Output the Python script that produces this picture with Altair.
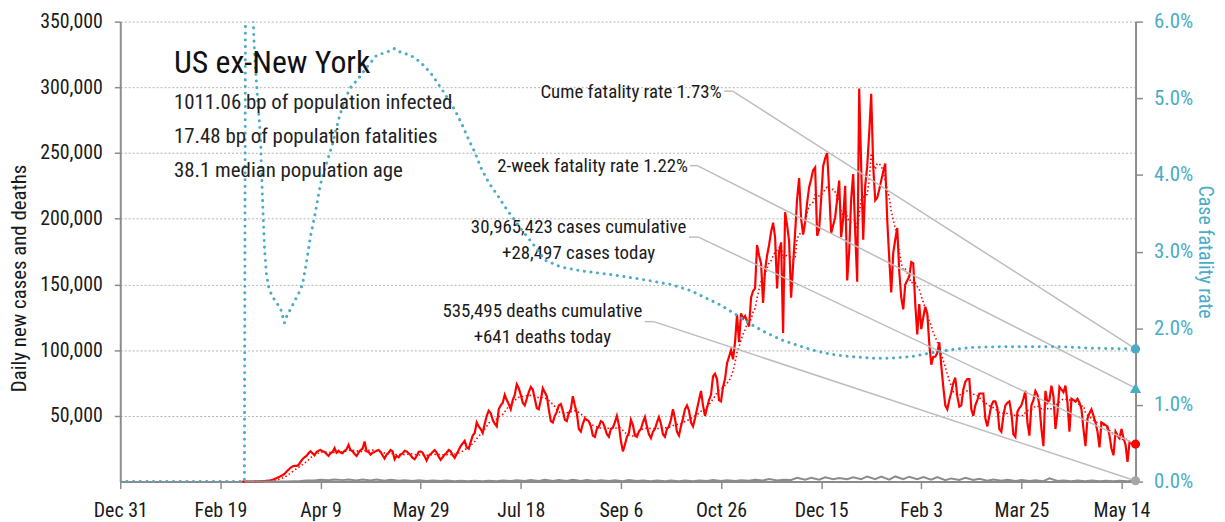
import altair as alt
import pandas as pd

# ------------------------------------------------------------------ facts
region_name = "US ex-New York"
bp_infected = 1011.06
bp_fatalities = 17.48
median_age = 38.1
cases_cumulative = 30965423
deaths_cumulative = 535495
cases_today = 28497
deaths_today = 641
cume_fatality_pct = 1.73
two_week_fatality_pct = 1.22

first_day = "2019-12-31"
last_day = "2021-05-21"
x_tick_dates = ["2019-12-31", "2020-02-19", "2020-04-09", "2020-05-29",
                "2020-07-18", "2020-09-06", "2020-10-26", "2020-12-15",
                "2021-02-03", "2021-03-25", "2021-05-14"]
left_ticks = [50000, 100000, 150000, 200000, 250000, 300000, 350000]
right_ticks = [0, 1, 2, 3, 4, 5, 6]

# ------------------------------------------------------------------ daily new cases
cases_2020_03 = [10, 15, 20, 30, 40, 60, 80, 110, 150, 200,
                 300, 400, 600, 800, 1000, 1400, 1900, 2600, 3300, 4000,
                 4800, 5800, 7500, 9000, 10500, 11500, 12000, 12000, 12500, 15000, 17000]
cases_2020_04 = [18500, 19500, 21500, 23000, 21500, 20000, 22500, 23500, 24000, 23000,
                 22500, 21000, 19500, 21500, 22500, 25500, 22000, 23500, 22000, 21500,
                 23500, 24500, 28000, 24000, 23000, 21000, 19500, 22000, 24000, 25000]
cases_2020_05 = [30500, 23000, 22500, 20500, 22000, 22500, 23500, 24000, 22500, 20000,
                 17500, 20500, 22000, 24000, 23000, 17000, 19500, 18500, 20500, 21500,
                 23500, 23000, 21500, 20000, 18000, 17000, 19500, 22500, 23000, 22000, 19000]
cases_2020_06 = [16000, 19500, 21000, 22500, 24000, 22000, 19000, 16500, 18500, 20500,
                 22000, 24000, 23000, 20000, 18000, 21000, 24000, 27000, 29000, 31000,
                 26000, 25000, 30000, 35000, 37000, 45000, 42000, 40000, 37000, 44000]
cases_2020_07 = [50000, 54000, 52000, 47000, 44000, 42000, 55000, 58000, 60000, 66000,
                 62000, 59000, 55000, 62000, 66000, 74000, 71000, 66000, 60000, 58000,
                 63000, 68000, 72000, 70000, 63000, 56000, 55000, 62000, 71000, 68000, 65000]
cases_2020_08 = [55000, 46000, 45000, 50000, 53000, 58000, 59000, 54000, 47000, 46000,
                 52000, 55000, 65000, 58000, 52000, 40000, 38000, 44000, 48000, 47000,
                 46000, 42000, 35000, 34000, 40000, 42000, 46000, 45000, 41000, 36000, 34000]
cases_2020_09 = [40000, 41000, 45000, 50000, 43000, 31000, 23000, 28000, 34000, 37000,
                 47000, 43000, 35000, 34000, 38000, 40000, 45000, 49000, 42000, 36000,
                 33000, 38000, 40000, 45000, 49000, 44000, 36000, 34000, 40000, 42000]
cases_2020_10 = [47000, 55000, 48000, 38000, 35000, 42000, 48000, 55000, 58000, 54000,
                 45000, 42000, 48000, 55000, 62000, 69000, 58000, 50000, 56000, 62000,
                 66000, 80000, 82000, 78000, 62000, 61000, 72000, 78000, 90000, 95000, 100000]
cases_2020_11 = [93000, 106000, 127000, 106000, 128000, 124000, 126000, 122000, 118000, 140000,
                 145000, 147000, 180000, 172000, 166000, 136000, 161000, 172000, 180000, 190000,
                 197000, 186000, 147000, 175000, 182000, 113000, 205000, 195000, 183000, 140000]
cases_2020_12 = [165000, 189000, 215000, 231000, 200000, 188000, 197000, 212000, 224000, 230000,
                 237000, 239000, 187000, 192000, 215000, 240000, 246000, 250000, 222000, 189000,
                 195000, 201000, 215000, 229000, 186000, 200000, 225000, 153000, 175000, 215000, 234000]
cases_2021_01 = [190000, 152000, 299000, 240000, 184000, 225000, 240000, 265000, 295000, 240000,
                 214000, 216000, 222000, 229000, 236000, 242000, 199000, 170000, 144000, 174000,
                 184000, 193000, 160000, 140000, 131000, 150000, 153000, 156000, 167000, 166000, 135000]
cases_2021_02 = [112000, 135000, 116000, 125000, 133000, 128000, 105000, 89000, 95000, 95000,
                 98000, 106000, 88000, 72000, 58000, 55000, 62000, 68000, 75000, 79000,
                 65000, 57000, 58000, 70000, 76000, 78000, 78000, 55000]
cases_2021_03 = [50000, 58000, 62000, 67000, 67000, 67000, 48000, 42000, 50000, 58000,
                 61000, 61000, 56000, 40000, 38000, 50000, 58000, 60000, 61000, 52000,
                 36000, 34000, 53000, 56000, 58000, 63000, 69000, 45000, 35000, 58000, 62000]
cases_2021_04 = [69000, 66000, 58000, 40000, 27000, 69000, 60000, 62000, 73000, 65000,
                 40000, 52000, 72000, 70000, 68000, 73000, 60000, 38000, 63000, 62000,
                 61000, 63000, 60000, 55000, 40000, 27000, 48000, 52000, 55000, 50000]
cases_2021_05 = [45000, 38000, 26000, 45000, 44000, 43000, 42000, 35000, 25000, 20000,
                 38000, 35000, 33000, 40000, 33000, 28000, 15000, 30000, 29000, 29000, cases_today]

# ------------------------------------------------------------------ daily deaths, read on Mondays and Thursdays
deaths_2020 = [0, 10, 10, 20, 40, 80, 150, 300, 450,
               800, 900, 1300, 1000, 1500, 1100, 1600, 900, 1600,
               900, 1500, 600, 1400, 600, 1100, 400, 1000,
               500, 900, 400, 800, 300, 700, 300, 600, 300,
               600, 300, 900, 400, 950, 400, 1100, 500, 1300,
               500, 1200, 500, 1300, 500, 1100, 400, 1000, 400,
               1000, 300, 1100, 400, 900, 300, 900, 300,
               800, 300, 900, 300, 800, 400, 1100, 500, 1000,
               500, 1100, 600, 1300, 800, 1900, 900, 1300, 1200,
               2800, 1400, 2900, 1400, 3200, 1800, 2700, 1800, 3300]
deaths_2021 = [1800, 3900, 1900, 3800, 1400, 3900, 1800, 3700,
               1800, 3500, 1400, 3400, 1000, 2400, 1200, 2800,
               1300, 2200, 700, 1500, 600, 1300, 400, 1100, 400,
               1000, 300, 2500, 400, 800, 300, 800, 300, 800,
               300, 700, 300, 600, 300, 600]

# ------------------------------------------------------------------ cumulative case fatality rate (%), read at day offsets
rate_day = [0, 62, 63, 64, 65, 66, 67, 68, 70, 71,
            72, 73, 74, 75, 77, 80, 82, 83, 84, 87,
            89, 91, 93, 95, 97, 100, 103, 106, 109, 112,
            115, 119, 123, 128, 133, 137, 140, 145, 150, 155,
            160, 165, 168, 171, 174, 177, 180, 184, 188, 193,
            200, 207, 212, 220, 230, 245, 260, 275, 285, 292,
            300, 308, 315, 322, 330, 338, 345, 355, 365, 375,
            385, 395, 405, 415, 425, 440, 455, 470, 485, 507]
rate_pct = [0, 0, 12, 15, 12, 6.3, 5.6, 5.2, 4.5, 3.7,
            3.05, 2.7, 2.55, 2.47, 2.37, 2.26, 2.07, 2.15, 2.2, 2.35,
            2.45, 2.57, 2.86, 3.2, 3.45, 3.88, 4.15, 4.4, 4.72, 4.98,
            5.14, 5.26, 5.4, 5.56, 5.6, 5.65, 5.6, 5.56, 5.47, 5.33,
            5.14, 4.94, 4.8, 4.64, 4.46, 4.3, 4.1, 3.9, 3.75, 3.55,
            3.3, 3.07, 2.89, 2.8, 2.75, 2.7, 2.64, 2.57, 2.49, 2.4,
            2.3, 2.17, 2.05, 1.95, 1.85, 1.78, 1.72, 1.66, 1.63, 1.61,
            1.61, 1.63, 1.68, 1.72, 1.75, 1.76, 1.76, 1.76, 1.74, cume_fatality_pct]

# ------------------------------------------------------------------ styling / layout
FONT = "Liberation Sans Narrow, Roboto Condensed, DejaVu Sans Condensed, sans-serif"
RED = "#ff0000"
TEAL = "#4bacc6"
GRAY = "#8c8c8c"
LEADER = "#bdbdbd"
INK = "#1a1a1a"
W, H = 1022, 463
LEFT_MAX, RIGHT_MAX = 350000, 6

DAY_MS = 86_400_000


def to_ms(ts):
    return int(pd.Timestamp(ts).value // 1_000_000)


t0 = to_ms(first_day)
t_end = to_ms(last_day)


def at_day(d):
    return t0 + int(round(d * DAY_MS))


# annotation anchors (day offset, left-axis value)
ann_right = [(f"Cume fatality rate {cume_fatality_pct:.2f}%", 300.3, 296300),
             (f"2-week fatality rate {two_week_fatality_pct:.2f}%", 283.5, 240000)]
ann_center = [(f"{cases_cumulative:,} cases cumulative", 228.9, 193900),
              (f"+{cases_today:,} cases today", 228.9, 174200),
              (f"{deaths_cumulative:,} deaths cumulative", 210.8, 130000),
              (f"+{deaths_today:,} deaths today", 210.8, 110000)]
to_left = LEFT_MAX / RIGHT_MAX
leader_specs = [(301.6, 305.8, 297100, cume_fatality_pct * to_left),
                (284.5, 288.2, 240400, two_week_fatality_pct * to_left),
                (284.0, 288.7, 186000, cases_today),
                (261.9, 266.4, 121700, deaths_today)]

# ------------------------------------------------------------------ tables
case_months = [("2020-03-01", cases_2020_03), ("2020-04-01", cases_2020_04),
               ("2020-05-01", cases_2020_05), ("2020-06-01", cases_2020_06),
               ("2020-07-01", cases_2020_07), ("2020-08-01", cases_2020_08),
               ("2020-09-01", cases_2020_09), ("2020-10-01", cases_2020_10),
               ("2020-11-01", cases_2020_11), ("2020-12-01", cases_2020_12),
               ("2021-01-01", cases_2021_01), ("2021-02-01", cases_2021_02),
               ("2021-03-01", cases_2021_03), ("2021-04-01", cases_2021_04),
               ("2021-05-01", cases_2021_05)]
parts = []
for start, vals in case_months:
    dates = pd.date_range(start, periods=len(vals), freq="D")
    assert (dates.month == dates[0].month).all(), start
    parts.append(pd.DataFrame({"date": dates.asi8 // 1_000_000, "v": vals}))
cases_df = pd.concat(parts, ignore_index=True)

mons = pd.date_range("2020-03-02", "2021-05-17", freq="W-MON")
thus = pd.date_range("2020-03-05", "2021-05-20", freq="W-THU")
death_dates = mons.union(thus)
death_vals = deaths_2020 + deaths_2021
assert len(death_dates) == len(death_vals)
deaths_df = pd.DataFrame({"date": list(death_dates.asi8 // 1_000_000) + [t_end],
                          "v": death_vals + [deaths_today]})

rate_df = pd.DataFrame({"date": [at_day(d) for d in rate_day], "r": rate_pct})

leader_rows = []
for d1, d2, yv, yend in leader_specs:
    leader_rows.append({"x": at_day(d1), "x2": at_day(d2), "y": yv, "y2": yv})
    leader_rows.append({"x": at_day(d2), "x2": t_end, "y": yv, "y2": yend})
leaders_df = pd.DataFrame(leader_rows)

ann_right_df = pd.DataFrame([{"date": at_day(d), "v": v, "t": t} for t, d, v in ann_right])
ann_center_df = pd.DataFrame([{"date": at_day(d), "v": v, "t": t} for t, d, v in ann_center])

# ------------------------------------------------------------------ scales / axes
x_scale = alt.Scale(type="utc", domain=[t0, t_end], nice=False)
x_axis = alt.Axis(values=[to_ms(d) for d in x_tick_dates],
                  labelExpr="utcFormat(datum.value, '%b %-d')",
                  grid=False, tickSize=7, tickWidth=1.5, tickColor=GRAY,
                  domainColor=GRAY, domainWidth=2, labelFontSize=20, labelColor=INK,
                  labelPadding=12, labelFlush=False, labelOverlap=False)
yl_scale = alt.Scale(domain=[0, LEFT_MAX], nice=False, zero=True)
yl_axis = alt.Axis(values=left_ticks, format=",d", grid=True, gridDash=[2, 2],
                   gridColor="#b3b3b3", gridWidth=1, tickSize=6, tickWidth=1.5,
                   tickColor=GRAY, domainColor=GRAY, domainWidth=2,
                   labelFontSize=20, labelColor=INK, labelPadding=12,
                   titleFontSize=21, titleFontWeight="normal", titleColor=INK,
                   titleAngle=-90, titleX=-101, titleY=258, titleAlign="center",
                   titleBaseline="middle")
yr_scale = alt.Scale(domain=[0, RIGHT_MAX], nice=False, zero=True)
yr_axis = alt.Axis(orient="right", values=right_ticks,
                   labelExpr="format(datum.value, '.1f') + '%'", grid=False,
                   tickSize=7, tickWidth=1.5, tickColor=GRAY, domainColor=GRAY,
                   domainWidth=2, labelFontSize=21, labelColor=TEAL, labelPadding=11,
                   titleFontSize=20, titleFontWeight="normal", titleColor=TEAL,
                   titleAngle=90, titleX=69, titleY=231.5, titleAlign="center",
                   titleBaseline="middle")
LEFT_TITLE = "Daily new cases and deaths"
RIGHT_TITLE = "Case fatality rate"


def X(field):
    return alt.X(field, type="temporal", scale=x_scale, axis=x_axis, title=None)


def YL(field):
    return alt.Y(field, type="quantitative", scale=yl_scale, axis=yl_axis, title=LEFT_TITLE)


def YR(field):
    return alt.Y(field, type="quantitative", scale=yr_scale, axis=yr_axis, title=RIGHT_TITLE)


# ------------------------------------------------------------------ left-axis layers
cases_line = alt.Chart(cases_df).mark_line(color=RED, strokeWidth=2.2).encode(
    x=X("date"), y=YL("v"))
avg_line = alt.Chart(cases_df).transform_window(
    avg="mean(v)", frame=[-6, 0], sort=[alt.SortField("date")]
).mark_line(color=RED, strokeWidth=1.6, strokeDash=[1.5, 2.5]).encode(
    x=X("date"), y=YL("avg"))
deaths_line = alt.Chart(deaths_df).mark_line(color=GRAY, strokeWidth=2).encode(
    x=X("date"), y=YL("v"))
leaders = alt.Chart(leaders_df).mark_rule(color=LEADER, strokeWidth=1.5).encode(
    x=X("x"), x2="x2:T", y=YL("y"), y2="y2:Q")
red_dot = alt.Chart(pd.DataFrame({"date": [t_end], "v": [cases_today]})).mark_circle(
    color=RED, size=85, opacity=1).encode(x=X("date"), y=YL("v"))
gray_dot = alt.Chart(pd.DataFrame({"date": [t_end], "v": [deaths_today]})).mark_circle(
    color="#a6a6a6", size=85, opacity=1).encode(x=X("date"), y=YL("v"))
labels_r = alt.Chart(ann_right_df).mark_text(
    align="right", baseline="middle", fontSize=19, color=INK).encode(
    x=X("date"), y=YL("v"), text="t:N")
labels_c = alt.Chart(ann_center_df).mark_text(
    align="center", baseline="middle", fontSize=19, color=INK).encode(
    x=X("date"), y=YL("v"), text="t:N")

left = alt.layer(cases_line, avg_line, deaths_line, leaders, red_dot, gray_dot,
                 labels_r, labels_c)

# ------------------------------------------------------------------ right-axis layers
rate_line = alt.Chart(rate_df).mark_line(
    color=TEAL, strokeWidth=3, strokeDash=[0.1, 6.6], strokeCap="round", clip=True
).encode(x=X("date"), y=YR("r"))
cume_dot = alt.Chart(pd.DataFrame({"date": [t_end], "r": [cume_fatality_pct]})).mark_circle(
    color=TEAL, size=85, opacity=1).encode(x=X("date"), y=YR("r"))
two_week_tri = alt.Chart(pd.DataFrame({"date": [t_end], "r": [two_week_fatality_pct]})).mark_point(
    shape="triangle-up", filled=True, color=TEAL, size=130, opacity=1).encode(
    x=X("date"), y=YR("r"))

title_df = pd.DataFrame({"t": [region_name]})
sub1_df = pd.DataFrame({"t": [f"{bp_infected:.2f} bp of population infected"]})
sub2_df = pd.DataFrame({"t": [f"{bp_fatalities:.2f} bp of population fatalities"]})
sub3_df = pd.DataFrame({"t": [f"{median_age:.1f} median population age"]})
title_txt = alt.Chart(title_df).mark_text(
    align="left", baseline="alphabetic", fontSize=32, color="#111").encode(
    x=alt.value(54), y=alt.value(52), text="t:N")
sub_layers = []
for df_, yy in [(sub1_df, 87.5), (sub2_df, 122), (sub3_df, 156.5)]:
    sub_layers.append(alt.Chart(df_).mark_text(
        align="left", baseline="alphabetic", fontSize=21, color="#222").encode(
        x=alt.value(54), y=alt.value(yy), text="t:N"))

right = alt.layer(rate_line, cume_dot, two_week_tri, title_txt, *sub_layers)

chart = alt.layer(left, right).resolve_scale(y="independent").properties(
    width=W, height=H,
    padding={"left": 113, "top": 12, "right": 82, "bottom": 40},
    autosize=alt.AutoSizeParams(type="none"),
).configure(font=FONT).configure_view(stroke=None)

chart.save("out.html", embed_options={"renderer": "svg", "actions": False})
